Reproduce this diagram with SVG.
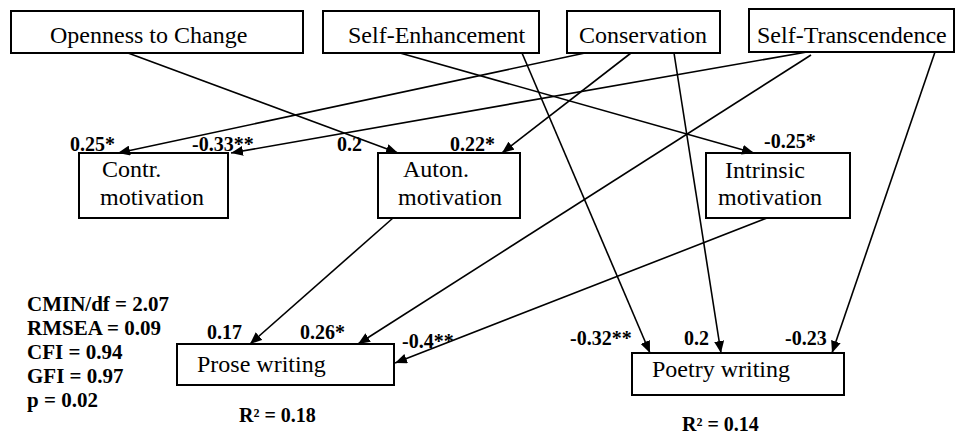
<svg xmlns="http://www.w3.org/2000/svg" width="957" height="435" viewBox="0 0 957 435">
<style>
.box{fill:#fff;stroke:#000;stroke-width:2}
.nt{font-family:"Liberation Serif","Times New Roman",serif;font-size:24px;fill:#000}
.lb{font-family:"Liberation Serif","Times New Roman",serif;font-size:20px;font-weight:bold;fill:#000}
.st{font-family:"Liberation Serif","Times New Roman",serif;font-size:21px;font-weight:bold;fill:#000}
.ed{stroke:#000;stroke-width:1.6;fill:none;marker-end:url(#ah)}
</style>
<defs>
<marker id="ah" markerUnits="userSpaceOnUse" markerWidth="12" markerHeight="10" refX="12" refY="5" orient="auto">
<path d="M0,0 L12,5 L0,10 z" fill="#000"/>
</marker>
</defs>
<rect width="957" height="435" fill="#fff"/>
<g id="n-openness"><rect class="box" x="11" y="11" width="292" height="42"/><text class="nt" x="50" y="43">Openness to Change</text></g>
<g id="n-selfenh"><rect class="box" x="323" y="11" width="216" height="42"/><text class="nt" x="348" y="43">Self-Enhancement</text></g>
<g id="n-conservation"><rect class="box" x="567" y="11" width="153" height="42"/><text class="nt" x="579" y="43">Conservation</text></g>
<g id="n-selftrans"><rect class="box" x="749" y="9" width="205" height="43"/><text class="nt" x="757" y="43">Self-Transcendence</text></g>
<g id="n-contr"><rect class="box" x="79" y="153" width="149" height="65"/><text class="nt" x="102" y="177">Contr.</text><text class="nt" x="100" y="205">motivation</text></g>
<g id="n-auton"><rect class="box" x="378" y="153" width="142" height="65"/><text class="nt" x="403" y="177">Auton.</text><text class="nt" x="398" y="205">motivation</text></g>
<g id="n-intrinsic"><rect class="box" x="706" y="153" width="144" height="65"/><text class="nt" x="725" y="178">Intrinsic</text><text class="nt" x="718" y="205">motivation</text></g>
<g id="n-prose"><rect class="box" x="177" y="344" width="217" height="41"/><text class="nt" x="197" y="372">Prose writing</text></g>
<g id="n-poetry"><rect class="box" x="632" y="353" width="212" height="42"/><text class="nt" x="652" y="377">Poetry writing</text></g>
<g id="connectors">
<line class="ed" x1="128" y1="53" x2="398" y2="153"/>
<line class="ed" x1="400" y1="53" x2="754" y2="153"/>
<line class="ed" x1="585" y1="53" x2="118" y2="153"/>
<line class="ed" x1="807" y1="52" x2="231" y2="153"/>
<line class="ed" x1="631" y1="53" x2="502" y2="153"/>
<line class="ed" x1="811" y1="55" x2="358" y2="344"/>
<line class="ed" x1="393" y1="218" x2="250" y2="344"/>
<line class="ed" x1="767" y1="218" x2="395" y2="363"/>
<line class="ed" x1="522" y1="53" x2="650" y2="353"/>
<line class="ed" x1="674" y1="53" x2="721" y2="353"/>
<line class="ed" x1="935" y1="52" x2="832" y2="353"/>
</g>
<g id="labels">
<text class="lb" x="70" y="151">0.25*</text>
<text class="lb" x="192" y="151">-0.33**</text>
<text class="lb" x="337" y="151">0.2</text>
<text class="lb" x="450" y="151">0.22*</text>
<text class="lb" x="764" y="148">-0.25*</text>
<text class="lb" x="207" y="339">0.17</text>
<text class="lb" x="300" y="339">0.26*</text>
<text class="lb" x="402" y="348">-0.4**</text>
<text class="lb" x="570" y="345">-0.32**</text>
<text class="lb" x="684" y="345">0.2</text>
<text class="lb" x="785" y="345">-0.23</text>
<text class="lb" x="239" y="422">R² = 0.18</text>
<text class="lb" x="682" y="431">R² = 0.14</text>
</g>
<g id="stats">
<text class="st" x="27" y="311">CMIN/df = 2.07</text>
<text class="st" x="27" y="335">RMSEA = 0.09</text>
<text class="st" x="27" y="359">CFI = 0.94</text>
<text class="st" x="27" y="383">GFI = 0.97</text>
<text class="st" x="27" y="407">p = 0.02</text>
</g>
</svg>
